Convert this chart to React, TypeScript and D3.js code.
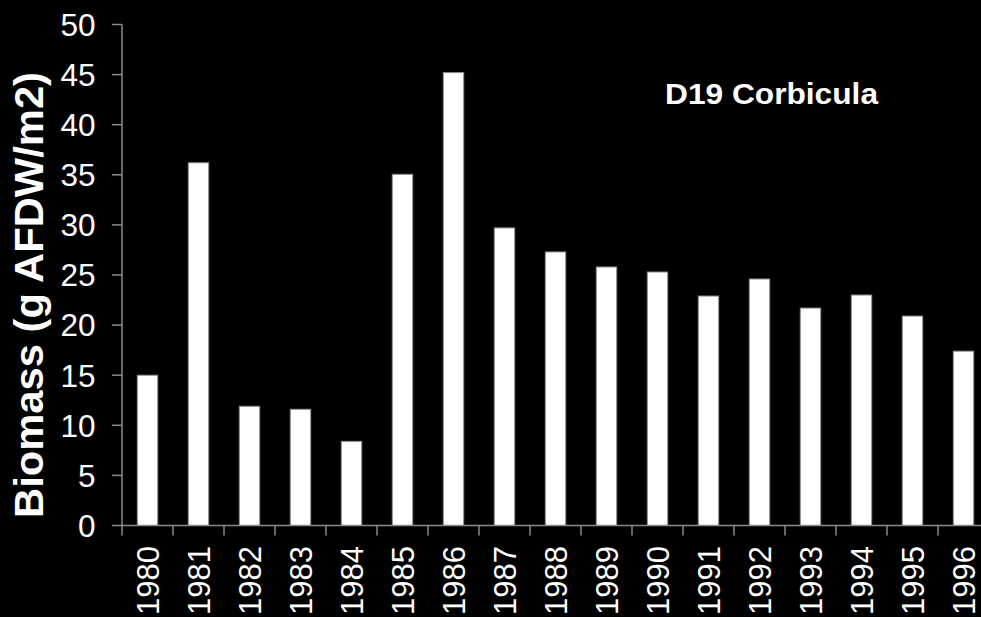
import React from "react";
import * as d3 from "d3";

const years = ["1980","1981","1982","1983","1984","1985","1986","1987","1988","1989","1990","1991","1992","1993","1994","1995","1996"];
const biomass = [15.0, 36.2, 11.9, 11.6, 8.4, 35.05, 45.2, 29.7, 27.3, 25.8, 25.3, 22.9, 24.6, 21.7, 23.0, 20.9, 17.4];
const yTicks = [0, 5, 10, 15, 20, 25, 30, 35, 40, 45, 50];
const titleText = "D19 Corbicula";
const yAxisTitle = "Biomass (g AFDW/m2)";

const W = 981;
const H = 617;

export default function App() {
  const x = d3.scaleBand<string>().domain(years).range([122, 989]).paddingInner(0.6).paddingOuter(0.3);
  const step = x.step();
  const y = d3.scaleLinear().domain([0, 50]).range([525.5, 24.5]);
  const axisColor = "#8a8a8a";
  const font = "'Liberation Sans', Arial, Helvetica, sans-serif";
  const x0 = 122;
  const boundaries = d3.range(years.length + 1).map((i) => x0 + i * step);

  return (
    <svg width={W} height={H} style={{ position: "absolute", left: 0, top: 0 }} fontFamily={font}>
      <rect x={0} y={0} width={W} height={H} fill="#000" />
      {years.map((yr, i) => (
        <rect
          key={yr}
          x={x(yr)}
          y={y(biomass[i])}
          width={x.bandwidth()}
          height={y(0) - y(biomass[i])}
          fill="#fff"
          stroke="#8c8c8c"
          strokeWidth={1}
        />
      ))}
      {/* y axis */}
      <line x1={x0} x2={x0} y1={y(50)} y2={y(0)} stroke={axisColor} strokeWidth={1.5} />
      {yTicks.map((t) => (
        <g key={t}>
          <line x1={x0 - 10} x2={x0} y1={y(t)} y2={y(t)} stroke={axisColor} strokeWidth={1.5} />
          <text x={95.5} y={y(t)} dy="0.36em" textAnchor="end" fill="#fff" fontSize={31.5}>
            {t}
          </text>
        </g>
      ))}
      {/* x axis */}
      <line x1={x0} x2={W} y1={y(0)} y2={y(0)} stroke={axisColor} strokeWidth={1.5} />
      {boundaries.map((bx, i) => (
        <line key={i} x1={bx} x2={bx} y1={y(0)} y2={y(0) + 10} stroke={axisColor} strokeWidth={1.5} />
      ))}
      {years.map((yr) => {
        const cx = (x(yr) as number) + x.bandwidth() / 2;
        return (
          <text
            key={yr}
            transform={`translate(${cx},546) rotate(-90)`}
            dy="0.36em"
            textAnchor="end"
            fill="#fff"
            fontSize={31}
          >
            {yr}
          </text>
        );
      })}
      <text
        transform={`translate(43,295) rotate(-90)`}
        textAnchor="middle"
        fill="#fff"
        fontSize={40}
        fontWeight="bold"
        textLength={446}
        lengthAdjust="spacingAndGlyphs"
      >
        {yAxisTitle}
      </text>
      <text x={665} y={104} fill="#fff" fontSize={29} fontWeight="bold" textLength={213} lengthAdjust="spacingAndGlyphs">
        {titleText}
      </text>
    </svg>
  );
}
